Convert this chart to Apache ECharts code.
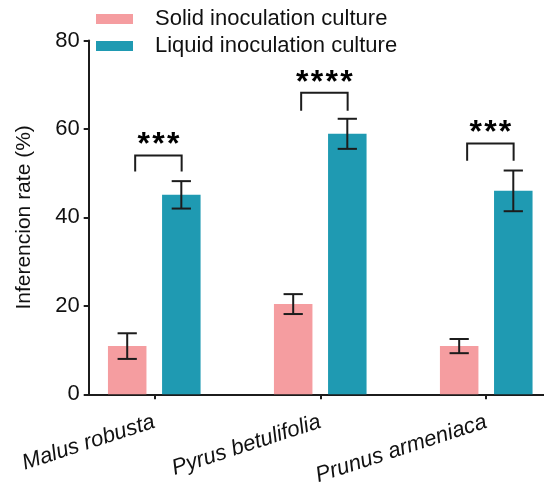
<!DOCTYPE html>
<html><head><meta charset="utf-8">
<script src="https://cdn.jsdelivr.net/npm/echarts@6/dist/echarts.min.js"></script>
<style>html,body{margin:0;padding:0;background:#fff}#c{width:544px;height:485px}</style>
</head><body><div id="c"></div>
<script>
const categories = ['Malus robusta', 'Pyrus betulifolia', 'Prunus armeniaca'];
const seriesNames = ['Solid inoculation culture', 'Liquid inoculation culture'];
const solidMean = [10.9, 20.4, 10.9];
const solidErr = [2.9, 2.25, 1.6];
const liquidMean = [45.1, 58.9, 46.0];
const liquidErr = [3.1, 3.4, 4.6];
const sigLabels = ['***', '****', '***'];
const bracketTop = [54.0, 68.2, 56.7];
const bracketBottom = [50.4, 64.1, 52.8];
const yTicks = [0, 20, 40, 60, 80];

const FONT = "'Liberation Sans', Arial, sans-serif";
const INK = '#1c1c1c';
const BAR_W = 0.232;
const OFFSET = 0.163;
const BR_LEFT = -0.115;
const BR_RIGHT = 0.165;

function barSeries(name, color, means, errs, offset) {
  return {
    name: name,
    type: 'custom',
    itemStyle: { color: color },
    data: means.map((m, i) => [i, m, errs[i]]),
    encode: { x: 0, y: 1 },
    renderItem: function (params, api) {
      const i = api.value(0), m = api.value(1), e = api.value(2);
      const x = i + offset;
      const c = api.coord([x, m]);
      const base = api.coord([x, 0]);
      const w = api.size([BAR_W, 0])[0];
      const top = api.coord([x, m + e]);
      const bot = api.coord([x, m - e]);
      const cw = w * 0.25;
      const ls = { stroke: INK, lineWidth: 2 };
      return {
        type: 'group',
        children: [
          { type: 'rect', shape: { x: c[0] - w / 2, y: c[1], width: w, height: base[1] - c[1] }, style: { fill: color } },
          { type: 'line', shape: { x1: top[0], y1: top[1], x2: bot[0], y2: bot[1] }, style: ls },
          { type: 'line', shape: { x1: top[0] - cw, y1: top[1], x2: top[0] + cw, y2: top[1] }, style: ls },
          { type: 'line', shape: { x1: bot[0] - cw, y1: bot[1], x2: bot[0] + cw, y2: bot[1] }, style: ls }
        ]
      };
    }
  };
}

const sigSeries = {
  type: 'custom',
  silent: true,
  data: categories.map((c, i) => [i, bracketTop[i], bracketBottom[i]]),
  encode: { x: 0, y: 1 },
  renderItem: function (params, api) {
    const i = api.value(0);
    const l = api.coord([i + BR_LEFT, api.value(1)]);
    const r = api.coord([i + BR_RIGHT, api.value(1)]);
    const lb = api.coord([i + BR_LEFT, api.value(2)]);
    const rb = api.coord([i + BR_RIGHT, api.value(2)]);
    const label = sigLabels[params.dataIndex];
    const cx = (l[0] + r[0]) / 2;
    const n = label.length, sp = 14.7;
    const stars = [];
    for (let k = 0; k < n; k++) {
      stars.push({
        type: 'text',
        style: {
          text: '*', x: cx + (k - (n - 1) / 2) * sp, y: l[1] - 10,
          align: 'center', verticalAlign: 'middle',
          font: 'bold 32px ' + FONT, fill: '#000'
        }
      });
    }
    return {
      type: 'group',
      children: [
        { type: 'polyline', shape: { points: [lb, l, r, rb] }, style: { stroke: INK, lineWidth: 2, fill: null } }
      ].concat(stars)
    };
  }
};

const chart = echarts.init(document.getElementById('c'), null, { renderer: 'canvas' });
chart.setOption({
  animation: false,
  backgroundColor: '#fff',
  textStyle: { fontFamily: FONT },
  grid: { left: 88.7, right: 0, top: 40.5, bottom: 90.7, containLabel: false, outerBoundsMode: 'none' },
  legend: {
    orient: 'vertical', left: 96, top: 8, padding: 0,
    itemWidth: 37, itemHeight: 10, itemGap: 5,
    icon: 'rect',
    data: seriesNames,
    textStyle: { fontSize: 22, color: '#111', fontFamily: FONT, lineHeight: 22, padding: [0, 0, 0, 17] }
  },
  xAxis: {
    type: 'value', min: -0.395, max: 2.348,
    splitLine: { show: false },
    axisLine: { show: true, onZero: false, lineStyle: { color: INK, width: 2 } },
    axisTick: { show: true, customValues: [0, 1, 2], length: 5, lineStyle: { color: INK, width: 2 } },
    axisLabel: {
      customValues: [0, 1, 2],
      formatter: function (v) { return categories[Math.round(v)]; },
      rotate: 18, fontStyle: 'italic', fontSize: 22, color: '#111', margin: 27, fontFamily: FONT
    }
  },
  yAxis: {
    type: 'value', min: 0, max: 80, interval: 20,
    name: 'Inferencion rate (%)', nameLocation: 'middle', nameGap: 54,
    nameTextStyle: { fontSize: 21, color: '#111', fontFamily: FONT },
    splitLine: { show: false },
    axisLine: { show: true, onZero: false, lineStyle: { color: INK, width: 2 } },
    axisTick: { show: true, length: 5, lineStyle: { color: INK, width: 2 } },
    axisLabel: {
      fontSize: 22, color: '#111', margin: 9, fontFamily: FONT,
      formatter: function (v) { return yTicks.indexOf(v) >= 0 ? String(v) : ''; }
    }
  },
  series: [
    barSeries(seriesNames[0], '#F59DA0', solidMean, solidErr, -OFFSET),
    barSeries(seriesNames[1], '#1F9AB2', liquidMean, liquidErr, OFFSET),
    sigSeries
  ]
});
</script></body></html>
